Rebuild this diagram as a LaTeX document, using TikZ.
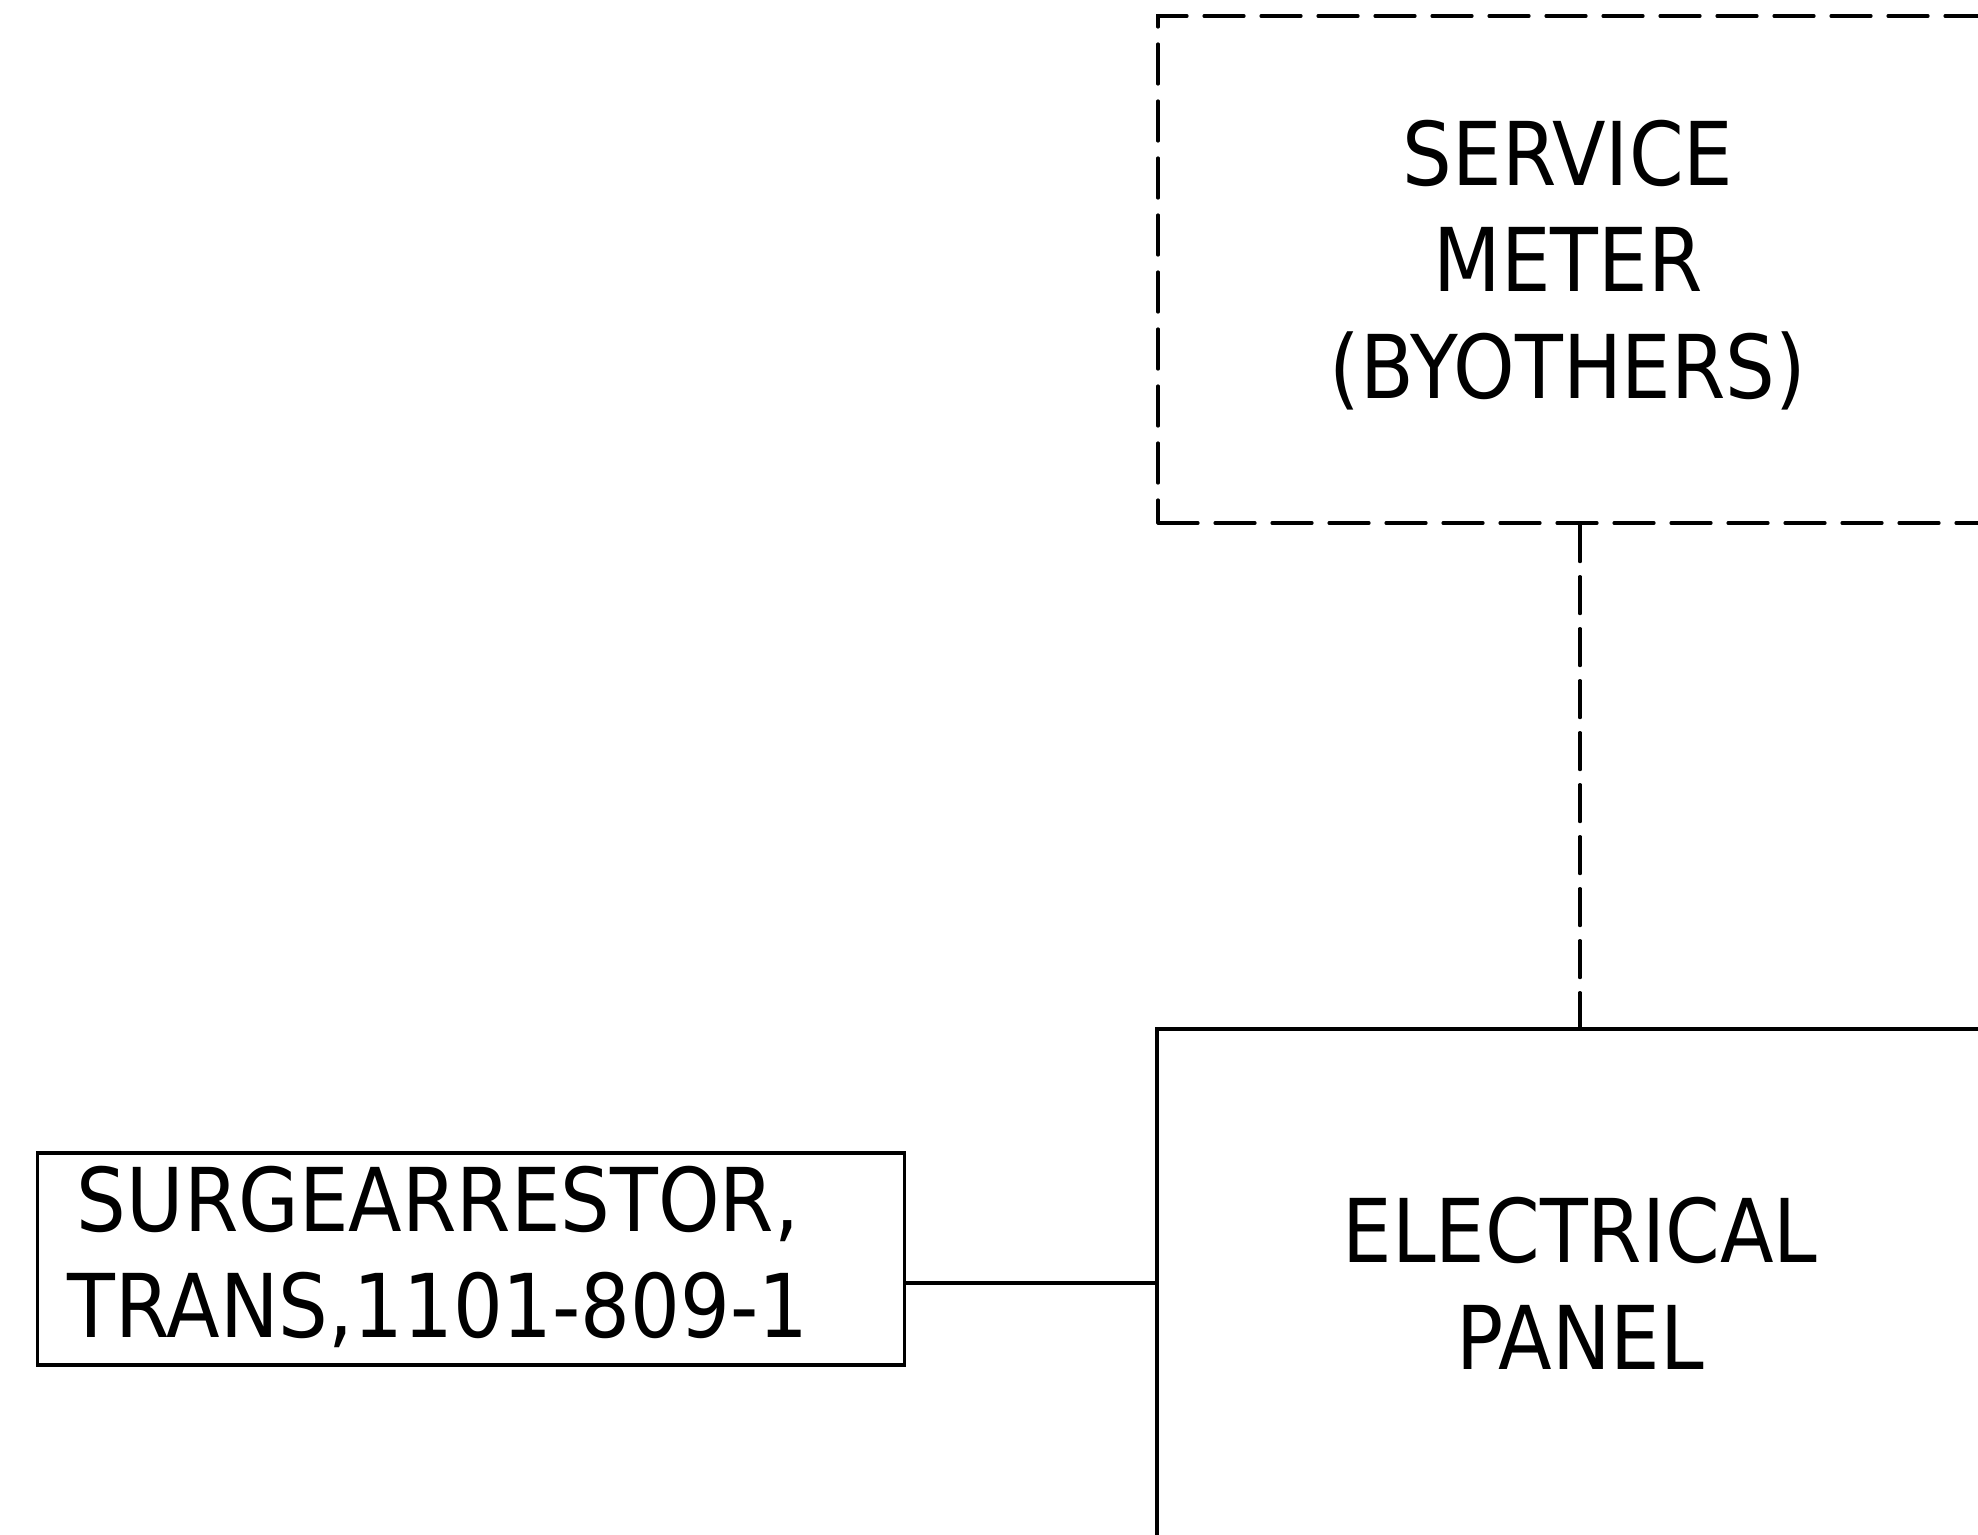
\documentclass[tikz,border=0pt]{standalone}
\usepackage{fontspec}
\setmainfont[FakeStretch=0.89]{DejaVu Sans}
\tikzset{
  box/.style={draw, rectangle, line width=3.2pt, inner sep=0pt},
  txt/.style={font=\fontsize{88}{106.7}\selectfont, align=center, inner sep=0pt},
  wire/.style={line width=3.2pt},
  dashbox/.style={dash pattern=on 40pt off 17pt, line cap=round},
  dashwire/.style={dash pattern=on 37pt off 15pt, line cap=round},
}
\begin{document}
\begin{tikzpicture}[x=1pt,y=-1pt]
\useasboundingbox (0,0) rectangle (1978,1534);
\node[box, dashbox, minimum width=844pt, minimum height=507pt] (meter) at (1580,269.5) {};
\node[txt] (metertext) at (1568,265) {SERVICE\\METER\\(BYOTHERS)};
\node[box, txt, minimum width=846pt, minimum height=508pt] (panel) at (1580,1283) {ELECTRICAL\\PANEL};
\node[box, minimum width=866.7pt, minimum height=212pt] (surge) at (471.2,1259) {};
\node[txt] (surgetext) at (438,1257) {SURGEARRESTOR,\\TRANS,1101-809-1};
\draw[wire] (surge.east |- panel.west) -- (panel.west);
\draw[wire, dashwire] (meter.south) -- (panel.north);
\end{tikzpicture}
\end{document}
